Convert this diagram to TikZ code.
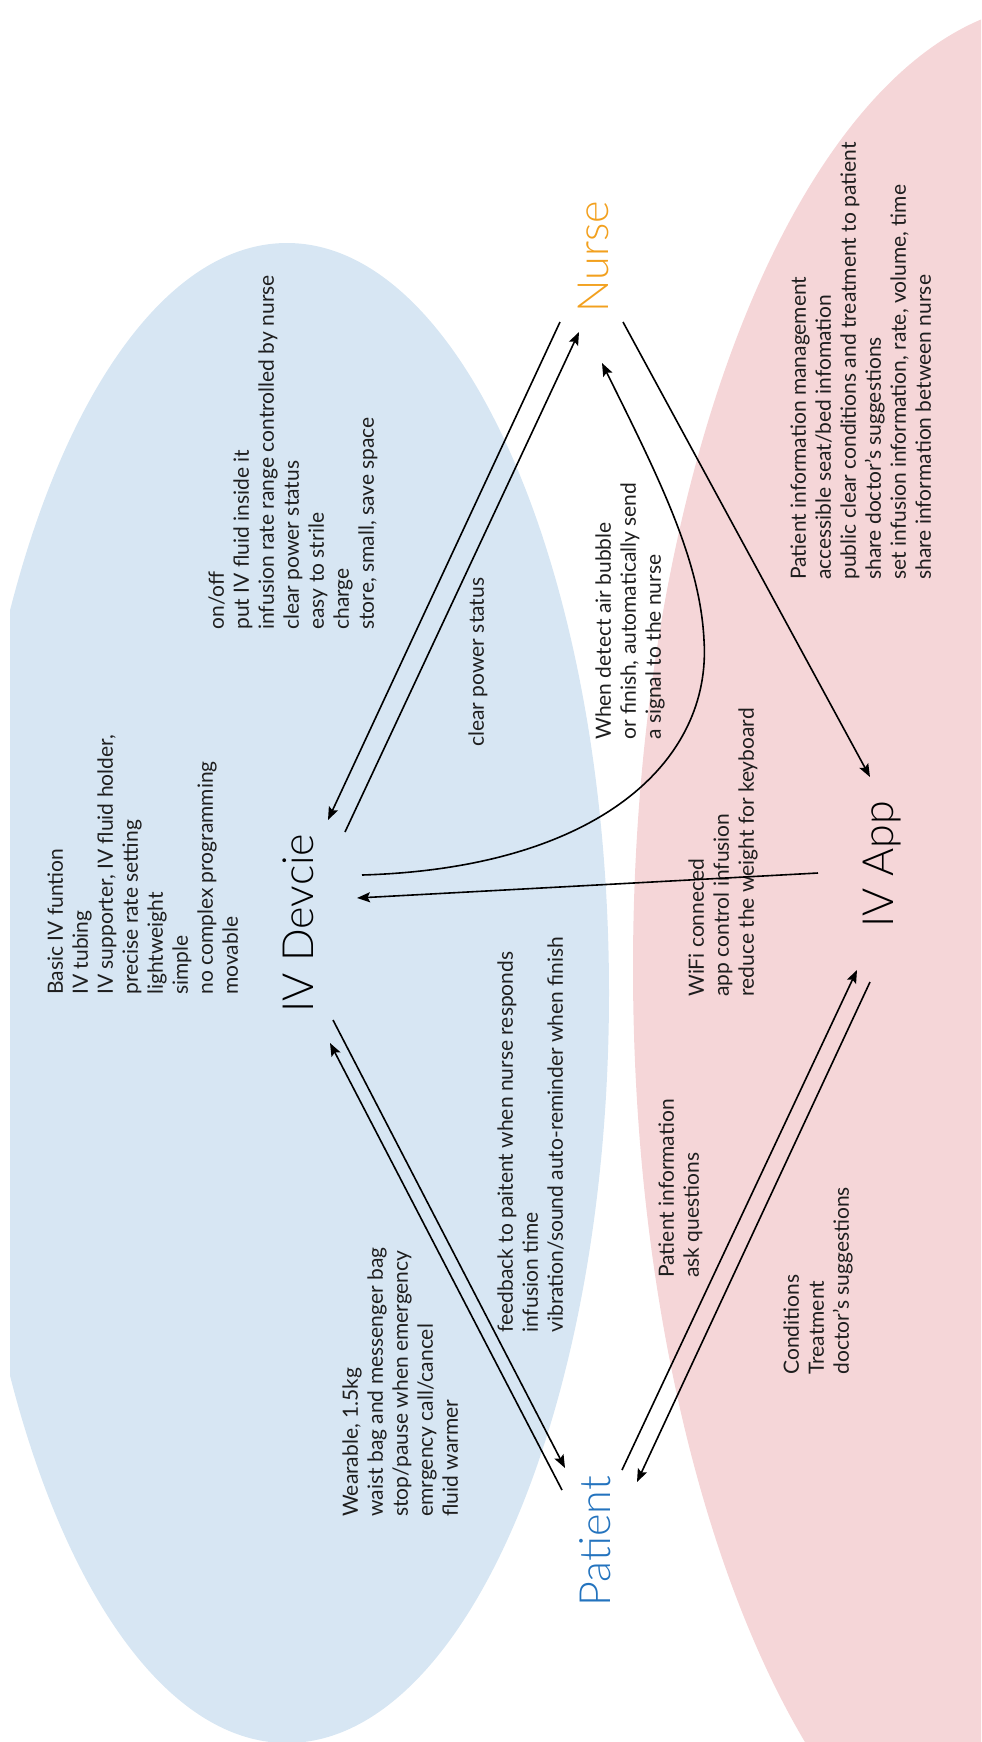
\documentclass[tikz,border=0pt]{standalone}
\usepackage{fontspec}
\setmainfont{Lato}
\newfontfamily\lightfont{Lato Light}
\usetikzlibrary{arrows.meta}
\definecolor{bluefill}{RGB}{215,230,243}
\definecolor{pinkfill}{RGB}{245,214,216}
\definecolor{nurseor}{RGB}{242,160,30}
\definecolor{patblue}{RGB}{35,115,190}
\definecolor{txt}{RGB}{30,30,30}
\tikzset{
  lbl/.style={rotate=90, anchor=north west, inner sep=0pt, align=left,
    font=\fontsize{10.5}{12.5}\selectfont, text=txt},
  big/.style={rotate=90, anchor=base west, inner sep=0pt,
    font=\lightfont\fontsize{21.5}{25}\selectfont},
  con/.style={line width=0.8pt, draw=black},
  arr/.style={con, -{Stealth[length=6.5pt,width=5pt,inset=1.2pt]}}
}
\begin{document}
\begin{tikzpicture}[x=0.5pt,y=-0.5pt]
\path[use as bounding box] (0,0) rectangle (981,1742);
% background regions
\begin{scope}
  \clip (10,0) rectangle (981,1742);
  \fill[bluefill] (287,993) ellipse [x radius=322, y radius=750];
\end{scope}
\begin{scope}
  \clip (0,0) rectangle (981,1742);
  \fill[pinkfill] (1060,968) ellipse [x radius=427, y radius=965];
\end{scope}
% main labels
\node[big, text=black] (dev) at (313,1013) {IV Devcie};
\node[big, text=nurseor] (nurse) at (608,313) {Nurse};
\node[big, text=black] (app) at (893,928) {IV App};
\node[big, text=patblue] (pat) at (610,1607) {Patient};
% text blocks
\node[lbl] (tA) at (47,995) {Basic IV funtion\\IV tubing\\IV supporter, IV fluid holder,\\precise rate setting\\lightweight\\simple\\no complex programming\\movable};
\node[lbl] (tB) at (208,630) {on/off\\put IV fluid inside it\\infusion rate range controlled by nurse\\clear power status\\easy to strile\\charge\\store, small, save space};
\node[lbl] (tC) at (468,747) {clear power status};
\node[lbl] (tD) at (595,740) {When detect air bubble\\or finish, automatically send\\a signal to the nurse};
\node[lbl] (tE) at (688,997) {WiFi conneced\\app control infusion\\reduce the weight for keyboard};
\node[lbl] (tF) at (790,580) {Patient information management\\accessible seat/bed infomation\\public clear conditions and treatment to patient\\share doctor’s suggestions\\set infusion information, rate, volume, time\\share information between nurse};
\node[lbl] (tG) at (497,1333) {feedback to paitent when nurse responds\\infusion time\\vibration/sound auto-reminder when finish};
\node[lbl] (tH) at (342,1517) {Wearable, 1.5kg\\waist bag and messenger bag\\stop/pause when emergency\\emrgency call/cancel\\fluid warmer};
\node[lbl] (tI) at (658,1278) {Patient information\\ask questions};
\node[lbl] (tJ) at (783,1375) {Conditions\\Treatment\\doctor’s suggestions};
% connector end points
\coordinate (n1) at (560,322);  \coordinate (d1) at (328,820);
\coordinate (d2) at (345,832);  \coordinate (n2) at (579,332);
\coordinate (n3) at (623,322);  \coordinate (a3) at (870,777);
\coordinate (d4) at (362,875);  \coordinate (n4) at (602,363);
\coordinate (a5) at (818,873);  \coordinate (d5) at (357,898);
\coordinate (d6) at (333,1020); \coordinate (p6) at (565,1468);
\coordinate (p7) at (562,1490); \coordinate (d7) at (330,1043);
\coordinate (p8) at (622,1470); \coordinate (a8) at (857,970);
\coordinate (a9) at (870,982);  \coordinate (p9) at (637,1482);
% connectors
\draw[arr] (n1) -- (d1);
\draw[arr] (d2) -- (n2);
\draw[arr] (n3) -- (a3);
\draw[arr] (d4) .. controls (600,868) and (712,760) .. (704,640)
               .. controls (700,560) and (660,480) .. (n4);
\draw[arr] (a5) -- (d5);
\draw[arr] (d6) -- (p6);
\draw[arr] (p7) -- (d7);
\draw[arr] (p8) -- (a8);
\draw[arr] (a9) -- (p9);
\end{tikzpicture}
\end{document}
